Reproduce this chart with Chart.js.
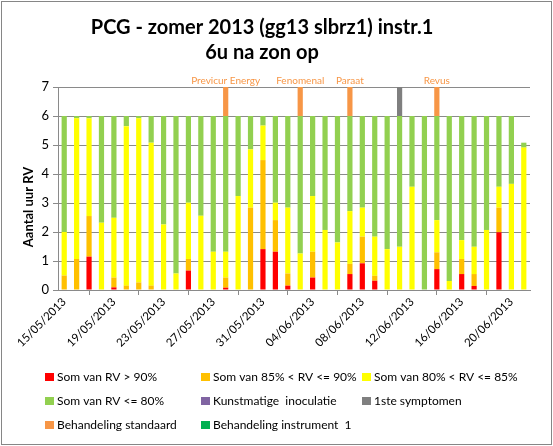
<!DOCTYPE html>
<html>
<head>
<meta charset="utf-8">
<script src="https://cdn.jsdelivr.net/npm/chart.js@4.4.0/dist/chart.umd.min.js"></script>
<style>
  html, body { margin: 0; padding: 0; background: #fff; }
  #wrap { width: 553px; height: 446px; position: relative; }
</style>
</head>
<body>
<div id="wrap"><canvas id="c" width="553" height="446"></canvas></div>
<script>
const titleLines = ["PCG - zomer 2013 (gg13 slbrz1) instr.1", "6u na zon op"];
const yAxisTitle = "Aantal uur RV";

const dates = [
  "15/05/2013","16/05/2013","17/05/2013","18/05/2013","19/05/2013","20/05/2013","21/05/2013","22/05/2013",
  "23/05/2013","24/05/2013","25/05/2013","26/05/2013","27/05/2013","28/05/2013","29/05/2013","30/05/2013",
  "31/05/2013","01/06/2013","02/06/2013","03/06/2013","04/06/2013","05/06/2013","06/06/2013","07/06/2013",
  "08/06/2013","09/06/2013","10/06/2013","11/06/2013","12/06/2013","13/06/2013","14/06/2013","15/06/2013",
  "16/06/2013","17/06/2013","18/06/2013","19/06/2013","20/06/2013","21/06/2013"
];

const rvAbove90 = [0,0,1.15,0,0.09,0,0,0,0,0,0.67,0,0,0.08,0,0,1.41,1.32,0.15,0,0.43,0,0,0.55,0.92,0.32,0,0,0,0,0.72,0,0.55,0.14,0,1.99,0,0];
const rv85to90  = [0.5,1.07,1.4,0,0.34,0.15,0.26,0.15,0,0,0.4,0,0,0.35,0,2.84,3.07,1.09,0.42,0,0.89,0,0,0.35,0.92,0.17,0,0,0,0,0.58,0,0.52,0.41,0,0.85,0,0];
const rv80to85  = [1.5,4.85,3.37,2.32,2.06,5.5,5.66,4.93,2.26,0.57,1.94,2.56,1.32,0.89,3.24,2.01,1.19,0.6,2.27,1.26,1.92,2.07,1.64,1.82,1.0,1.35,1.41,1.49,3.56,0,1.11,0.31,0.65,0.94,2.07,0.72,3.66,4.91];
const rvBelow80 = [4,0.08,0.08,3.68,3.51,0.35,0.08,0.92,3.74,5.43,2.99,3.44,4.68,4.68,2.76,1.15,0.33,2.99,3.16,4.74,2.76,3.93,4.36,3.28,3.16,4.16,4.59,4.51,2.44,6,3.59,5.69,4.28,4.51,3.93,2.44,2.34,0.17];

const N = null;
const inoculation   = [N,N,N,N,N,N,N,N,N,N,N,N,N,N,N,N,N,N,N,N,N,N,N,N,N,N,N,N,N,N,N,N,N,N,N,N,N,N];
const firstSymptoms = [N,N,N,N,N,N,N,N,N,N,N,N,N,N,N,N,N,N,N,N,N,N,N,N,N,N,N,1,N,N,N,N,N,N,N,N,N,N];
const treatStandard = [N,N,N,N,N,N,N,N,N,N,N,N,N,1,N,N,N,N,N,1,N,N,N,1,N,N,N,N,N,N,1,N,N,N,N,N,N,N];
const treatInstr1   = [N,N,N,N,N,N,N,N,N,N,N,N,N,N,N,N,N,N,N,N,N,N,N,N,N,N,N,N,N,N,N,N,N,N,N,N,N,N];
const treatNames    = [N,N,N,N,N,N,N,N,N,N,N,N,N,"Previcur Energy",N,N,N,N,N,"Fenomenal",N,N,N,"Paraat",N,N,N,N,N,N,"Revus",N,N,N,N,N,N,N];

const FONT = "Lato, 'Open Sans', sans-serif";
const GRID = "#8a8a8a";

function ds(label, data, color) {
  return { label, data, backgroundColor: color, borderWidth: 0, stack: "s",
           categoryPercentage: 1.0, barPercentage: 0.42 };
}

const datasets = [
  ds("Som van RV > 90%", rvAbove90, "#FF0000"),
  ds("Som van 85% < RV <= 90%", rv85to90, "#FFC000"),
  ds("Som van 80% < RV <= 85%", rv80to85, "#FFFF00"),
  ds("Som van RV <= 80%", rvBelow80, "#92D050"),
  ds("Kunstmatige  inoculatie", inoculation, "#8064A2"),
  ds("1ste symptomen", firstSymptoms, "#7F7F7F"),
  ds("Behandeling standaard", treatStandard, "#F79646"),
  ds("Behandeling instrument  1", treatInstr1, "#00B050")
];

const decor = {
  id: "decor",
  afterDraw(chart) {
    const ctx = chart.ctx;
    ctx.save();
    // outer border
    ctx.strokeStyle = "#868686";
    ctx.lineWidth = 1;
    ctx.strokeRect(1.5, 1.5, chart.width - 3, chart.height - 3);
    // title
    ctx.fillStyle = "#000";
    ctx.textAlign = "center";
    ctx.textBaseline = "middle";
    ctx.font = "bold 20px " + FONT;
    ctx.fillText(titleLines[0], 262, 28);
    ctx.fillText(titleLines[1], 262, 53);
    // y axis title
    ctx.save();
    ctx.translate(29, 207);
    ctx.rotate(-Math.PI / 2);
    ctx.font = "bold 13px " + FONT;
    ctx.fillText(yAxisTitle, 0, 0);
    ctx.restore();
    // treatment labels
    const metaStd = chart.getDatasetMeta(6);
    ctx.font = "10px " + FONT;
    ctx.fillStyle = "#F79646";
    treatNames.forEach((name, i) => {
      if (!name) return;
      const el = metaStd.data[i];
      ctx.fillText(name, el.x, el.y - 6);
    });
    // legend
    const colX = [45, 201, 362];
    const rowY = [377, 401, 425];
    ctx.font = "12px " + FONT;
    ctx.textAlign = "left";
    chart.data.datasets.forEach((d, i) => {
      const x = colX[i % 3];
      const y = rowY[Math.floor(i / 3)];
      ctx.fillStyle = d.backgroundColor;
      ctx.fillRect(x, y - 4, 9, 8);
      ctx.fillStyle = "#000";
      ctx.fillText(d.label, x + 12, y);
    });
    ctx.restore();
  }
};

new Chart(document.getElementById("c"), {
  type: "bar",
  data: { labels: dates, datasets },
  plugins: [decor],
  options: {
    responsive: false,
    animation: false,
    events: [],
    layout: { padding: { top: 87, right: 23, bottom: 96, left: 0 } },
    plugins: { legend: { display: false }, tooltip: { enabled: false }, title: { display: false } },
    scales: {
      x: {
        stacked: true,
        offset: true,
        afterFit(scale) { scale.height = 60; },
        grid: { display: true, drawOnChartArea: false, drawTicks: true, tickLength: 5, color: GRID, offset: true },
        border: { display: true, color: GRID },
        ticks: {
          autoSkip: false,
          maxRotation: 45, minRotation: 45,
          padding: 0,
          color: "#000",
          font: { family: FONT, size: 11.5 },
          callback(v, i) { return i % 4 === 0 ? dates[i] : null; }
        }
      },
      y: {
        stacked: true,
        min: 0, max: 7,
        afterFit(scale) { scale.width = 58; },
        grid: { color: GRID, tickLength: 5, drawTicks: true },
        border: { display: true, color: GRID },
        ticks: { stepSize: 1, padding: 4, color: "#000", font: { family: FONT, size: 13 } }
      }
    }
  }
});
</script>
</body>
</html>
